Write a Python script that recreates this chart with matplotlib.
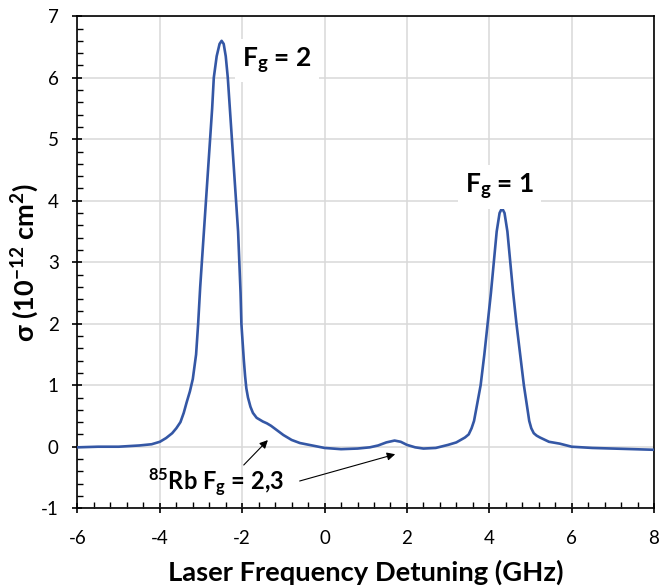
import matplotlib
matplotlib.use("Agg")
import matplotlib.pyplot as plt
from matplotlib.ticker import MultipleLocator

plt.rcParams["font.family"] = ["Lato", "DejaVu Sans"]
plt.rcParams["mathtext.fontset"] = "custom"
plt.rcParams["mathtext.rm"] = "Lato"
plt.rcParams["mathtext.bf"] = "Lato:bold"
plt.rcParams["mathtext.it"] = "Lato:italic"
plt.rcParams["axes.unicode_minus"] = False

# detuning (GHz) and absorption cross section (1e-12 cm^2)
detuning = [
    -6.0, -5.5, -5.0, -4.5, -4.2, -4.0, -3.85, -3.7, -3.6, -3.5,
    -3.42, -3.35, -3.27, -3.2, -3.12, -3.07, -3.02, -2.98, -2.93, -2.88,
    -2.83, -2.78, -2.73, -2.69, -2.62, -2.55, -2.5, -2.45, -2.4, -2.35,
    -2.3, -2.25, -2.2, -2.15, -2.1, -2.07, -2.04, -2.02, -1.99, -1.96,
    -1.93, -1.9, -1.86, -1.8, -1.74, -1.65, -1.5, -1.4, -1.3, -1.2,
    -1.1, -1.0, -0.8, -0.6, -0.3, 0.0, 0.4, 0.8, 1.1, 1.3,
    1.5, 1.7, 1.85, 2.0, 2.2, 2.4, 2.7, 3.0, 3.2, 3.41,
    3.5, 3.57, 3.63, 3.68, 3.79, 3.88, 3.96, 4.04, 4.11, 4.18,
    4.25, 4.31, 4.37, 4.44, 4.51, 4.58, 4.66, 4.75, 4.84, 4.93,
    4.97, 5.02, 5.08, 5.15, 5.23, 5.45, 5.71, 6.0, 6.5, 7.0,
    7.5, 8.0,
]
sigma = [
    -0.01, 0.0, 0.0, 0.02, 0.04, 0.08, 0.14, 0.22, 0.30, 0.40,
    0.55, 0.72, 0.90, 1.10, 1.50, 2.00, 2.60, 3.00, 3.50, 4.00,
    4.50, 5.00, 5.50, 6.00, 6.35, 6.55, 6.60, 6.55, 6.35, 6.00,
    5.50, 5.00, 4.50, 4.00, 3.50, 3.00, 2.50, 2.00, 1.70, 1.40,
    1.15, 0.95, 0.80, 0.65, 0.55, 0.47, 0.41, 0.38, 0.34, 0.29,
    0.24, 0.19, 0.11, 0.06, 0.02, -0.02, -0.04, -0.03, -0.01, 0.02,
    0.07, 0.10, 0.08, 0.03, -0.01, -0.03, -0.02, 0.03, 0.07, 0.15,
    0.20, 0.30, 0.42, 0.60, 1.00, 1.50, 2.00, 2.50, 3.00, 3.50,
    3.80, 3.88, 3.80, 3.50, 3.00, 2.50, 2.00, 1.50, 1.00, 0.60,
    0.42, 0.30, 0.22, 0.18, 0.15, 0.08, 0.05, 0.0, -0.02, -0.03,
    -0.04, -0.05,
]

fig = plt.figure(figsize=(6.59, 5.88), dpi=100)
ax = fig.add_axes([0.1176, 0.1357, 0.8748, 0.8367])

ax.plot(detuning, sigma, color="#3457A5", lw=1.9, zorder=3)

ax.set_xlim(-6, 8)
ax.set_ylim(-1, 7)
ax.xaxis.set_major_locator(MultipleLocator(2))
ax.xaxis.set_minor_locator(MultipleLocator(0.4))
ax.yaxis.set_major_locator(MultipleLocator(1))
ax.yaxis.set_minor_locator(MultipleLocator(0.2))
ax.grid(True, which="major", color="#d9d9d9", lw=1.1, zorder=0)
ax.set_axisbelow(True)

for s in ax.spines.values():
    s.set_color("black")
    s.set_linewidth(1.2)
ax.tick_params(which="major", direction="inout", length=7, width=1.2,
               labelsize=13.5)
ax.tick_params(which="minor", direction="in", length=4.5, width=1.0)
ax.tick_params(axis="x", pad=12)
ax.tick_params(axis="y", pad=10)

ax.set_xlabel("Laser Frequency Detuning (GHz)", fontsize=19.7, fontweight="bold", labelpad=9)
ax.set_ylabel(r"σ (10$^{\mathbf{-12}}$ cm$^{\mathbf{2}}$)", fontsize=19.5,
              fontweight="bold", labelpad=0)

box = dict(facecolor="white", edgecolor="none", pad=5)
ax.text(-2.0, 6.18, r"F$_\mathbf{g}$ = 2", fontsize=19, fontweight="bold",
        ha="left", va="baseline", bbox=box, zorder=4)
ax.text(4.26, 4.12, r"F$_\mathbf{g}$ = 1", fontsize=19, fontweight="bold",
        ha="center", va="baseline", bbox=box, zorder=4)

ax.text(-2.64, -0.70, r"$^{\mathbf{85}}$Rb F$_\mathbf{g}$ = 2,3", fontsize=17,
        fontweight="bold", ha="center", va="baseline", zorder=4)
arrow = dict(arrowstyle="-|>", color="black", lw=0.8, mutation_scale=12)
ax.annotate("", xy=(-1.33, 0.14), xytext=(-2.01, -0.33), arrowprops=arrow, zorder=4)
ax.annotate("", xy=(1.78, -0.11), xytext=(-0.67, -0.57), arrowprops=arrow, zorder=4)

fig.savefig("out.png", dpi=100)
